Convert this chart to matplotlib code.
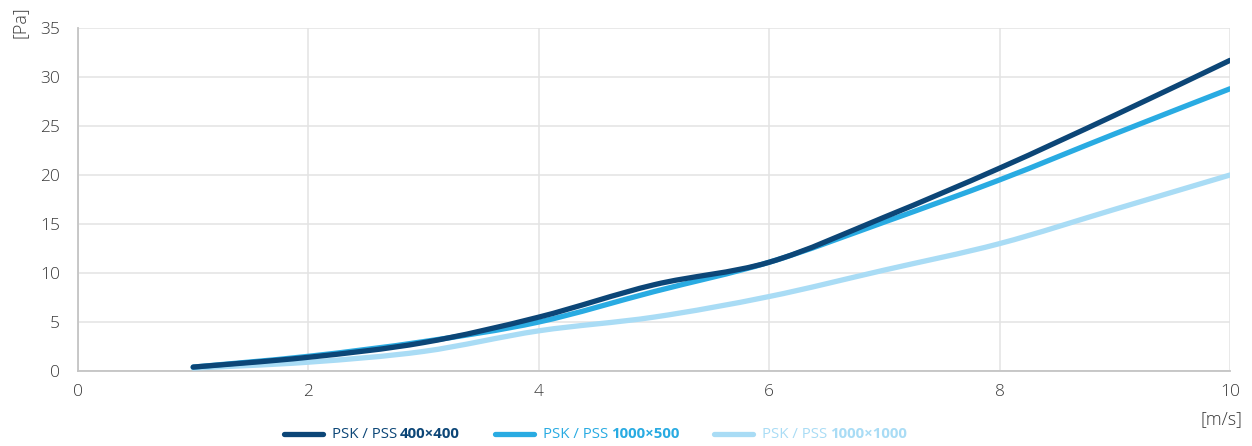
import matplotlib
matplotlib.use("Agg")
import matplotlib.pyplot as plt
from matplotlib.path import Path
from matplotlib.patches import PathPatch
from matplotlib.lines import Line2D
import numpy as np

plt.rcParams['font.family'] = ['Open Sans', 'DejaVu Sans']

velocity = [1, 2, 3, 4, 5, 6, 7, 8, 9, 10]
psk_400x400 = [0.4, 1.4, 2.9, 5.5, 8.8, 11.1, 15.7, 20.7, 26.1, 31.7]
psk_1000x500 = [0.4, 1.5, 3.0, 5.0, 8.1, 11.1, 15.2, 19.5, 24.2, 28.8]
psk_1000x1000 = [0.3, 0.9, 2.0, 4.1, 5.5, 7.6, 10.3, 13.0, 16.5, 20.0]

series_names = ["400×400", "1000×500", "1000×1000"]
series_values = [psk_400x400, psk_1000x500, psk_1000x1000]
colors = ["#0c4677", "#29abe2", "#a9dcf5"]

x_ticks = [0, 2, 4, 6, 8, 10]
y_ticks = [0, 5, 10, 15, 20, 25, 30, 35]

W, H = 1252, 446
fig = plt.figure(figsize=(W / 100, H / 100), dpi=100)
ax = fig.add_axes([78 / W, 1 - 371 / H, (1230 - 78) / W, (371 - 28) / H])


def smooth_path(xs, ys):
    pts = np.column_stack([xs, ys]).astype(float)
    n = len(pts)
    verts = [pts[0]]
    codes = [Path.MOVETO]
    for i in range(n - 1):
        p0 = pts[i - 1] if i > 0 else pts[i]
        p1 = pts[i]
        p2 = pts[i + 1]
        p3 = pts[i + 2] if i + 2 < n else pts[i + 1]
        c1 = p1 + (p2 - p0) / 6.0
        c2 = p2 - (p3 - p1) / 6.0
        verts += [c1, c2, p2]
        codes += [Path.CURVE4] * 3
    return Path(verts, codes)


for vals, col in zip(series_values[::-1], colors[::-1]):
    patch = PathPatch(smooth_path(velocity, vals), facecolor='none', edgecolor=col,
                      lw=3.8, capstyle='round', joinstyle='round', zorder=3)
    ax.add_patch(patch)

ax.set_xlim(0, 10)
ax.set_ylim(0, 35)
ax.set_xticks(x_ticks)
ax.set_yticks(y_ticks)
ax.grid(True, color="#e3e3e3", lw=1.1, zorder=0)
ax.set_axisbelow(True)
for s in ['top', 'right']:
    ax.spines[s].set_visible(False)
for s in ['left', 'bottom']:
    ax.spines[s].set_color("#c4c4c4")
    ax.spines[s].set_linewidth(1.3)
ax.tick_params(length=0, labelsize=12.5, labelcolor="#3a3a3a")
ax.tick_params(axis='y', pad=13)
ax.tick_params(axis='x', pad=9)
for lab in ax.get_xticklabels() + ax.get_yticklabels():
    lab.set_fontweight('light')

fig.text(20 / W, 1 - 22 / H, "[Pa]", rotation=90, ha='center', va='center',
         fontsize=13, color="#3a3a3a", fontweight='light')
fig.text(1222 / W, 1 - 419 / H, "[m/s]", ha='center', va='center',
         fontsize=13, color="#3a3a3a", fontweight='light')

# custom legend: regular prefix + bold size, coloured like the line
fig.canvas.draw()
renderer = fig.canvas.get_renderer()
legend_line_x = [284, 495, 714]
ly = 1 - 434 / H
for name, col, x0 in zip(series_names, colors, legend_line_x):
    fig.add_artist(Line2D([x0 / W, (x0 + 39) / W], [ly, ly], color=col, lw=3.8,
                          solid_capstyle='round', transform=fig.transFigure))
    t1 = fig.text((x0 + 48) / W, ly, "PSK / PSS", ha='left', va='center',
                  fontsize=10.8, color=col)
    bb = t1.get_window_extent(renderer)
    fig.text((bb.x1 + 3) / W, ly, name, ha='left', va='center',
             fontsize=10.8, color=col, fontweight='bold')

fig.savefig("out.png", dpi=100)
